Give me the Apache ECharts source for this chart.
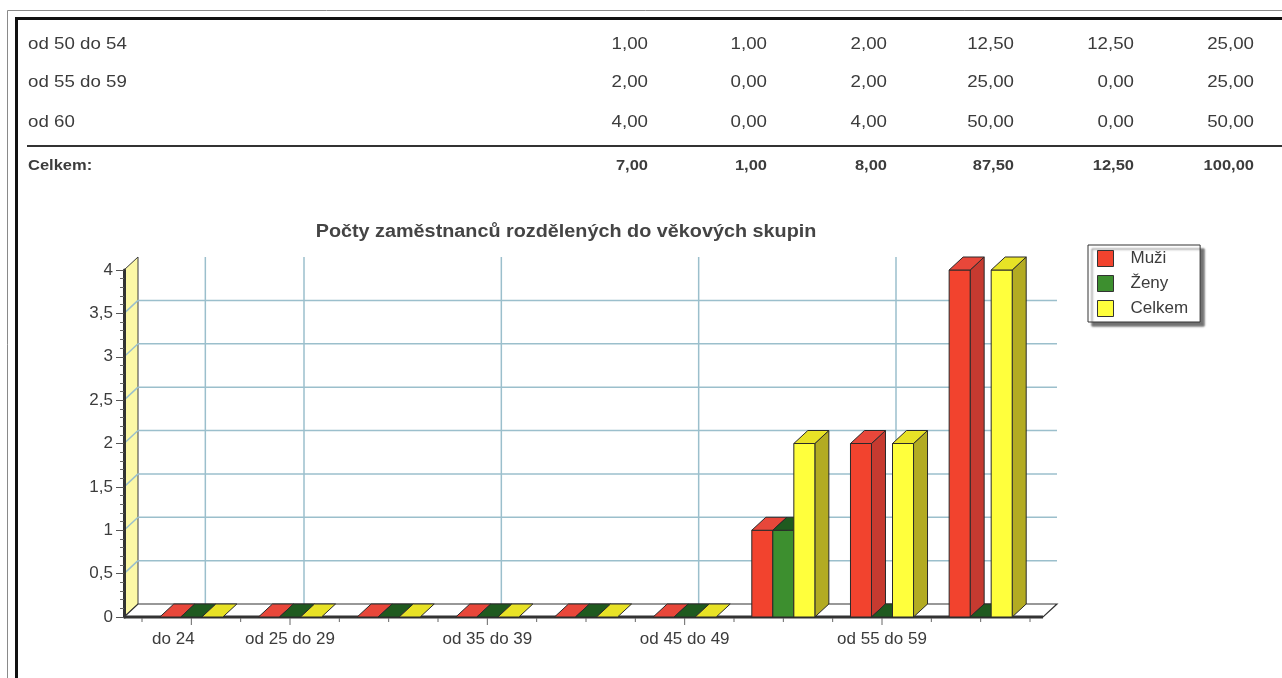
<!DOCTYPE html>
<html><head><meta charset="utf-8">
<script src="https://cdn.jsdelivr.net/npm/echarts@6/dist/echarts.min.js"></script>
<style>html,body{margin:0;padding:0;background:#fff}#c{width:1282px;height:678px}</style>
</head><body><div id="c"></div>
<script>
// ---------- data ----------
const categories = ['do 24','od 25 do 29','od 30 do 34','od 35 do 39','od 40 do 44','od 45 do 49','od 50 do 54','od 55 do 59','od 60'];
const muzi   = [0,0,0,0,0,0,1,2,4];
const zeny   = [0,0,0,0,0,0,1,0,0];
const celkem = [0,0,0,0,0,0,2,2,4];
const labeledCategories = [0,1,3,5,7];
const seriesNames = ['Muži','Ženy','Celkem'];
const chartTitle = 'Počty zaměstnanců rozdělených do věkových skupin';

const tableLabels    = ['od 50 do 54','od 55 do 59','od 60'];
const tableMuzi      = ['1,00','2,00','4,00'];
const tableZeny      = ['1,00','0,00','0,00'];
const tableCelkem    = ['2,00','2,00','4,00'];
const tablePctMuzi   = ['12,50','25,00','50,00'];
const tablePctZeny   = ['12,50','0,00','0,00'];
const tablePctCelkem = ['25,00','25,00','50,00'];
const totalLabel = 'Celkem:';
const totalRow   = ['7,00','1,00','8,00','87,50','12,50','100,00'];

// ---------- layout / style ----------
const FONT = '"Liberation Sans", Arial, sans-serif';
const TXT = '#3c3c3c';
const DX = 14, DY = -13;            // depth offset of the 3D look
const PAD_L = 18, PAD_R = 13;       // floor overhang beyond categories
const BAR_FRAC = 21 / 98.6;
const Y_MAX = 4, Y_STEP = 0.5;
const rowY = [44, 82, 122];
const totalY = 166;
const colRight = [648, 767, 887, 1014, 1134, 1254];
const TEXT_STRETCH = 1.1;
const palette = {
  red:    {front:'#f2432e', side:'#c63a30', top:'#e8473a'},
  green:  {front:'#3d8f2f', side:'#2b6a26', top:'#1f5a1f'},
  yellow: {front:'#ffff3c', side:'#b3ab22', top:'#e8e226'}
};

const chart = echarts.init(document.getElementById('c'), null, {renderer:'canvas'});

function decorRender(params, api) {
  const band = api.size([1, 0])[0];
  const c0 = api.coord([0, 0]);
  const yb = c0[1];
  const yt = api.coord([0, Y_MAX])[1];
  const x0 = c0[0] - band / 2 - PAD_L;
  const x1 = api.coord([categories.length - 1, 0])[0] + band / 2 + PAD_R;
  const ch = [];
  const gridStyle = {stroke:'#9bbfcc', lineWidth:1.5};
  ch.push({type:'polygon', shape:{points:[[x0,yb],[x0,yt],[x0+DX,yt+DY],[x0+DX,yb+DY]]},
           style:{fill:'#fcf8a6', stroke:'#3a3a3a', lineWidth:1}});
  for (let v = Y_STEP; v < Y_MAX - 1e-9; v += Y_STEP) {
    const y = api.coord([0, v])[1];
    ch.push({type:'line', shape:{x1:x0, y1:y, x2:x0+DX, y2:y+DY}, style:gridStyle});
    ch.push({type:'line', shape:{x1:x0+DX, y1:y+DY, x2:x1+DX, y2:y+DY}, style:gridStyle});
  }
  labeledCategories.forEach(function (i) {
    const x = api.coord([i, 0])[0] + DX;
    ch.push({type:'line', shape:{x1:x, y1:yt+DY, x2:x, y2:yb+DY}, style:gridStyle});
  });
  ch.push({type:'polygon', shape:{points:[[x0,yb],[x1,yb],[x1+DX,yb+DY],[x0+DX,yb+DY]]},
           style:{fill:'#ffffff', stroke:'#333', lineWidth:1.2}});
  ch.push({type:'line', shape:{x1:x0, y1:yb, x2:x1, y2:yb}, style:{stroke:'#333', lineWidth:3}});
  for (let k = 0; k <= categories.length * 2; k++) {
    const x = c0[0] - band / 2 + k * band / 2;
    const isLab = (k % 2 === 1) && labeledCategories.indexOf((k - 1) / 2) >= 0;
    ch.push({type:'line', shape:{x1:x, y1:yb+1, x2:x, y2:yb + (isLab ? 8 : 5)}, style:{stroke:'#666', lineWidth:1}});
  }
  return {type:'group', children:ch};
}

function makeBarRender(k, col) {
  return function (params, api) {
    const cat = api.value(0), val = api.value(1);
    const band = api.size([1, 0])[0];
    const bw = band * BAR_FRAC;
    const base = api.coord([cat, 0]);
    const top = api.coord([cat, val]);
    const xl = base[0] + (k - 1.5) * bw, xr = xl + bw;
    const yb = base[1], yt = top[1];
    const st = {stroke:'#2a2a2a', lineWidth:1, lineJoin:'round'};
    const ch = [];
    if (yb - yt > 0.5) {
      ch.push({type:'polygon', shape:{points:[[xr,yt],[xr+DX,yt+DY],[xr+DX,yb+DY],[xr,yb]]},
               style:Object.assign({fill:col.side}, st)});
      ch.push({type:'rect', shape:{x:xl, y:yt, width:bw, height:yb-yt},
               style:Object.assign({fill:col.front}, st)});
    }
    ch.push({type:'polygon', shape:{points:[[xl,yt],[xl+DX,yt+DY],[xr+DX,yt+DY],[xr,yt]]},
             style:Object.assign({fill:col.top}, st)});
    return {type:'group', children:ch};
  };
}

const graphics = [
  {type:'rect', shape:{x:7.5, y:10.5, width:1300, height:700}, style:{fill:null, stroke:'#8a8a8a', lineWidth:1}, silent:true},
  {type:'rect', shape:{x:16.5, y:18.5, width:1300, height:700}, style:{fill:null, stroke:'#111', lineWidth:3}, silent:true},
  {type:'line', shape:{x1:27, y1:146, x2:1282, y2:146}, style:{stroke:'#333', lineWidth:2}}
];
function txt(x, y, s, font, align) {
  return {type:'text', x:x, y:y, scaleX:TEXT_STRETCH,
          style:{text:s, fill:TXT, font:font, textAlign:align, textVerticalAlign:'middle'}};
}
const tableCols = [tableMuzi, tableZeny, tableCelkem, tablePctMuzi, tablePctZeny, tablePctCelkem];
tableLabels.forEach(function (lab, i) {
  graphics.push(txt(28, rowY[i], lab, '17px ' + FONT, 'left'));
  tableCols.forEach(function (col, j) {
    graphics.push(txt(colRight[j], rowY[i], col[i], '17px ' + FONT, 'right'));
  });
});
graphics.push(txt(28, totalY, totalLabel, 'bold 15px ' + FONT, 'left'));
totalRow.forEach(function (v, j) {
  graphics.push(txt(colRight[j], totalY, v, 'bold 15px ' + FONT, 'right'));
});
graphics.push({type:'text', x:566, y:232, scaleX:1.1,
  style:{text:chartTitle, fill:'#444', font:'bold 18px ' + FONT, textAlign:'center', textVerticalAlign:'middle'}});

const option = {
  backgroundColor:'#ffffff',
  animation:false,
  legend:{
    orient:'vertical', left:1088, top:245,
    data:seriesNames.map(function (n) { return {name:n, icon:'rect'}; }),
    itemWidth:16, itemHeight:16, itemGap:8,
    padding:[5, 12, 5, 9],
    backgroundColor:'#fff', borderColor:'#333', borderWidth:1,
    shadowColor:'rgba(0,0,0,0.55)', shadowBlur:2, shadowOffsetX:4, shadowOffsetY:4,
    itemStyle:{borderColor:'#333', borderWidth:1},
    textStyle:{fontFamily:FONT, fontSize:17, color:TXT, padding:[0,0,0,12]}
  },
  grid:{left:142, right:252, top:270, bottom:61, containLabel:false, outerBoundsMode:'none'},
  xAxis:{
    type:'category', data:categories, boundaryGap:true,
    axisLine:{show:false}, axisTick:{show:false}, splitLine:{show:false},
    axisLabel:{
      interval:function (i) { return labeledCategories.indexOf(i) >= 0; },
      margin:14, fontFamily:FONT, fontSize:17, color:TXT,
      formatter:function (v, i) { return i === 0 ? '{s|' + v + '}' : v; },
      rich:{s:{fontFamily:FONT, fontSize:17, color:TXT, padding:[0,36,0,0]}}
    }
  },
  yAxis:{
    type:'value', min:0, max:Y_MAX, interval:Y_STEP, offset:PAD_L, z:5,
    axisLine:{show:true, lineStyle:{color:'#333', width:3}},
    axisTick:{show:true, length:8, lineStyle:{color:'#555', width:1}},
    minorTick:{show:true, splitNumber:5, length:4, lineStyle:{color:'#666', width:1}},
    splitLine:{show:false},
    axisLabel:{margin:11, fontFamily:FONT, fontSize:17, color:TXT,
               formatter:function (v) { return String(v).replace('.', ','); }}
  },
  series:[
    {type:'custom', name:'decor', silent:true, clip:false, z:1, renderItem:decorRender, data:[[0,0]], encode:{x:0,y:1}},
    {type:'custom', name:seriesNames[0], clip:false, z:2, itemStyle:{color:palette.red.front},
     renderItem:makeBarRender(0, palette.red), data:categories.map(function (c,i){return [i, muzi[i]];}), encode:{x:0,y:1}},
    {type:'custom', name:seriesNames[1], clip:false, z:2, itemStyle:{color:palette.green.front},
     renderItem:makeBarRender(1, palette.green), data:categories.map(function (c,i){return [i, zeny[i]];}), encode:{x:0,y:1}},
    {type:'custom', name:seriesNames[2], clip:false, z:2, itemStyle:{color:palette.yellow.front},
     renderItem:makeBarRender(2, palette.yellow), data:categories.map(function (c,i){return [i, celkem[i]];}), encode:{x:0,y:1}}
  ],
  graphic:graphics
};
chart.setOption(option);
</script>
</body></html>
